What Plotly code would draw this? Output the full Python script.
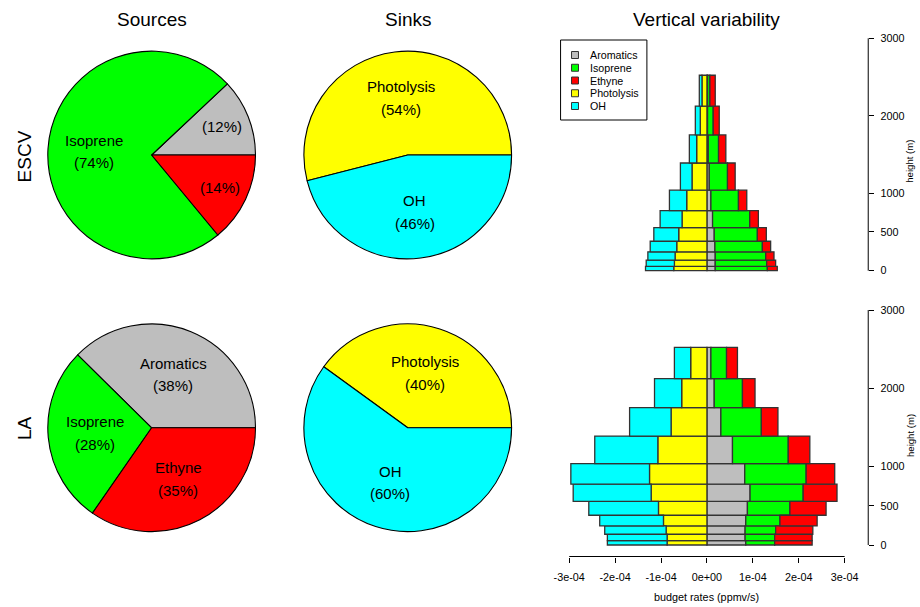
import math
import plotly.graph_objects as go

# ---------------------------------------------------------------- data
source_names = ["Aromatics", "Isoprene", "Ethyne"]
sink_names = ["Photolysis", "OH"]

escv_sources = [12, 74, 14]   # % of total production
escv_sinks = [54, 46]         # % of total loss
la_sources = [38, 28, 35]
la_sinks = [40, 60]

# model layer edges (m)
layer_edges = [0, 55, 137, 244, 380, 556, 776, 1039, 1390, 1753, 2125, 2523]

# budget rates per layer, bottom to top (1e-4 ppmv/s)
escv_arom = [0.181, 0.181, 0.181, 0.174, 0.159, 0.123, 0.087, 0.051, 0.029, 0.014, 0.014]
escv_iso = [1.135, 1.121, 1.099, 1.034, 0.940, 0.810, 0.600, 0.397, 0.224, 0.123, 0.051]
escv_eth = [0.217, 0.195, 0.181, 0.180, 0.195, 0.188, 0.181, 0.167, 0.159, 0.131, 0.116]
escv_phot = [0.723, 0.709, 0.694, 0.658, 0.615, 0.542, 0.441, 0.325, 0.224, 0.145, 0.108]
escv_oh = [0.615, 0.614, 0.593, 0.578, 0.542, 0.478, 0.376, 0.253, 0.159, 0.108, 0.058]

la_arom = [0.846, 0.832, 0.832, 0.846, 0.882, 0.940, 0.824, 0.557, 0.304, 0.159, 0.087]
la_iso = [0.629, 0.643, 0.665, 0.745, 0.926, 1.157, 1.338, 1.215, 0.882, 0.615, 0.340]
la_eth = [0.817, 0.817, 0.810, 0.810, 0.788, 0.737, 0.622, 0.470, 0.361, 0.274, 0.238]
la_phot = [0.868, 0.868, 0.889, 0.947, 1.056, 1.215, 1.251, 1.070, 0.781, 0.550, 0.354]
la_oh = [1.301, 1.301, 1.338, 1.389, 1.518, 1.699, 1.714, 1.374, 0.904, 0.592, 0.355]

x_ticks = [-3e-4, -2e-4, -1e-4, 0.0, 1e-4, 2e-4, 3e-4]
y_ticks = [0, 500, 1000, 2000, 3000]

# ---------------------------------------------------------------- style
W, H = 920, 607
FONT = "Liberation Sans, Arial, sans-serif"
colors = {"Aromatics": "#BEBEBE", "Isoprene": "#00FF00", "Ethyne": "#FF0000",
          "Photolysis": "#FFFF00", "OH": "#00FFFF"}
SCALE = 1e-4


def px(x):
    return x / W


def py(y):
    return 1 - y / H


fig = go.Figure()
annotations = []
shapes = []

# ---------------------------------------------------------------- pies
PIE_R = 104.3
pies = [
    # (values, names, centre px, single-line labels)
    (escv_sources, source_names, (148.3, 155.0), {"Aromatics", "Ethyne"}),
    (escv_sinks, sink_names, (405.5, 155.0), set()),
    (la_sources, source_names, (148.3, 427.8), set()),
    (la_sinks, sink_names, (405.5, 427.8), set()),
]

for values, names, (cx, cy), short in pies:
    total = sum(values)
    # slices run counter-clockwise from 3 o'clock; plotly places the first
    # counter-clockwise slice just clockwise of `rotation`, so shift by it
    first_span = 360.0 * values[0] / total
    fig.add_trace(go.Pie(
        values=values, labels=names, sort=False,
        direction="counterclockwise", rotation=90 - first_span,
        marker=dict(colors=[colors[n] for n in names],
                    line=dict(color="black", width=1.1)),
        textinfo="none", hoverinfo="skip", showlegend=False,
        domain=dict(x=[px(cx - PIE_R), px(cx + PIE_R)],
                    y=[py(cy + PIE_R), py(cy - PIE_R)]),
    ))
    start = 0.0
    for v, n in zip(values, names):
        span = 360.0 * v / total
        mid = math.radians(start + span / 2)
        start += span
        frac = 0.73 if n in short else 0.552
        lx = cx + frac * PIE_R * math.cos(mid)
        ly = cy - frac * PIE_R * math.sin(mid)
        lines = [f"({v}%)"] if n in short else [n, f"({v}%)"]
        offs = [0.0] if len(lines) == 1 else [-11.3, 11.3]
        for t, o in zip(lines, offs):
            annotations.append(dict(
                text=t, x=px(lx), y=py(ly + o), xref="paper", yref="paper",
                showarrow=False, xanchor="center", yanchor="middle",
                font=dict(size=15, color="black", family=FONT)))

# ---------------------------------------------------------------- profiles
mids = [(a + b) / 2 for a, b in zip(layer_edges[:-1], layer_edges[1:])]
thick = [b - a for a, b in zip(layer_edges[:-1], layer_edges[1:])]


def add_profile(arom, iso, eth, phot, oh, xa, ya):
    a = [v * SCALE for v in arom]
    i = [v * SCALE for v in iso]
    e = [v * SCALE for v in eth]
    p = [v * SCALE for v in phot]
    o = [v * SCALE for v in oh]
    stacks = [
        ("Aromatics", a, [0.0] * len(a)),
        ("Isoprene", i, a),
        ("Ethyne", e, [u + w for u, w in zip(a, i)]),
        ("Photolysis", p, [-u for u in p]),
        ("OH", o, [-(u + w) for u, w in zip(p, o)]),
    ]
    for name, length, base in stacks:
        fig.add_trace(go.Bar(
            y=mids, x=length, base=base, width=thick, orientation="h",
            name=name, showlegend=False, hoverinfo="skip",
            marker=dict(color=colors[name], line=dict(color="#333333", width=1.3)),
            xaxis=xa, yaxis=ya,
        ))


add_profile(escv_arom, escv_iso, escv_eth, escv_phot, escv_oh, "x", "y")
add_profile(la_arom, la_iso, la_eth, la_phot, la_oh, "x2", "y2")

X_L, X_R = 556.0, 868.0
X_ZERO, X_PER = 706.0, 46.1          # px of zero, px per 1e-4
x_range = [(X_L - X_ZERO) / X_PER * SCALE, (X_R - X_ZERO) / X_PER * SCALE]

tick_font = dict(size=10.8, color="black", family=FONT)
yaxis_common = dict(
    tickvals=y_ticks, ticks="outside", ticklen=5, tickwidth=1, tickcolor="black",
    showline=False, showgrid=False, zeroline=False, side="right",
    tickfont=tick_font, ticklabelstandoff=4,
)


def yrange(px_zero, px_top, px_bottom, px_3000):
    per = (px_zero - px_3000) / 3000.0
    return [-(px_bottom - px_zero) / per, 3000 + (px_3000 - px_top) / per]


fig.update_layout(
    xaxis=dict(domain=[px(X_L), px(X_R)], range=x_range, visible=False,
               anchor="y"),
    yaxis=dict(domain=[py(280.0), py(29.0)],
               range=yrange(270.7, 29.0, 280.0, 38.3), anchor="x",
               **yaxis_common),
    xaxis2=dict(domain=[px(X_L), px(X_R)], range=x_range, anchor="y2",
                tickvals=x_ticks, ticktext=[f"{v:.0e}" for v in x_ticks],
                ticks="outside", ticklen=5, tickwidth=1, tickcolor="black",
                showline=False, showgrid=False, zeroline=False,
                tickfont=tick_font, ticklabelstandoff=6),
    yaxis2=dict(domain=[py(556.5), py(300.6)],
                range=yrange(545.0, 300.6, 556.5, 310.0), anchor="x2",
                **yaxis_common),
)

# axis lines limited to the tick span
for ya in ("y", "y2"):
    shapes.append(dict(type="line", xref="paper", yref=ya,
                       x0=px(X_R), x1=px(X_R), y0=y_ticks[0], y1=y_ticks[-1],
                       line=dict(color="black", width=1)))
shapes.append(dict(type="line", xref="x2", yref="y2 domain",
                   x0=x_ticks[0], x1=x_ticks[-1], y0=0, y1=0,
                   line=dict(color="black", width=1)))

# ---------------------------------------------------------------- legend
leg_names = source_names + sink_names
shapes.append(dict(type="rect", xref="paper", yref="paper",
                   x0=px(559), x1=px(645.7), y0=py(120), y1=py(40),
                   line=dict(color="black", width=1), fillcolor="white"))
for k, n in enumerate(leg_names):
    yc = 55.0 + 12.75 * k
    shapes.append(dict(type="rect", xref="paper", yref="paper",
                       x0=px(570), x1=px(577), y0=py(yc + 3.5), y1=py(yc - 3.5),
                       line=dict(color="#333333", width=1), fillcolor=colors[n]))
    annotations.append(dict(text=n, x=px(587), y=py(yc), xref="paper", yref="paper",
                            showarrow=False, xanchor="left", yanchor="middle",
                            font=dict(size=10.7, color="black", family=FONT)))

# ---------------------------------------------------------------- titles
title_font = dict(size=19, color="black", family=FONT)
for t, x in [("Sources", 148.3), ("Sinks", 405.5), ("Vertical variability", 705.3)]:
    annotations.append(dict(text=t, x=px(x), y=py(19.5), xref="paper", yref="paper",
                            showarrow=False, xanchor="center", yanchor="middle",
                            font=title_font))
for t, y in [("ESCV", 156.0), ("LA", 427.7)]:
    annotations.append(dict(text=t, x=px(20.5), y=py(y), xref="paper", yref="paper",
                            showarrow=False, xanchor="center", yanchor="middle",
                            textangle=-90, font=title_font))
for y in (161.7, 436.0):
    annotations.append(dict(text="height (m)", x=px(910), y=py(y), xref="paper",
                            yref="paper", showarrow=False, textangle=-90,
                            xanchor="center", yanchor="middle",
                            font=dict(size=9.6, color="black", family=FONT)))
annotations.append(dict(text="budget rates (ppmv/s)", x=px(706), y=py(597),
                        xref="paper", yref="paper", showarrow=False,
                        xanchor="center", yanchor="middle",
                        font=dict(size=10.8, color="black", family=FONT)))

fig.update_layout(
    width=W, height=H, margin=dict(l=0, r=0, t=0, b=0),
    paper_bgcolor="white", plot_bgcolor="white",
    barmode="overlay", showlegend=False,
    font=dict(family=FONT, color="black"),
    annotations=annotations, shapes=shapes,
)

fig.write_html("out.html")
